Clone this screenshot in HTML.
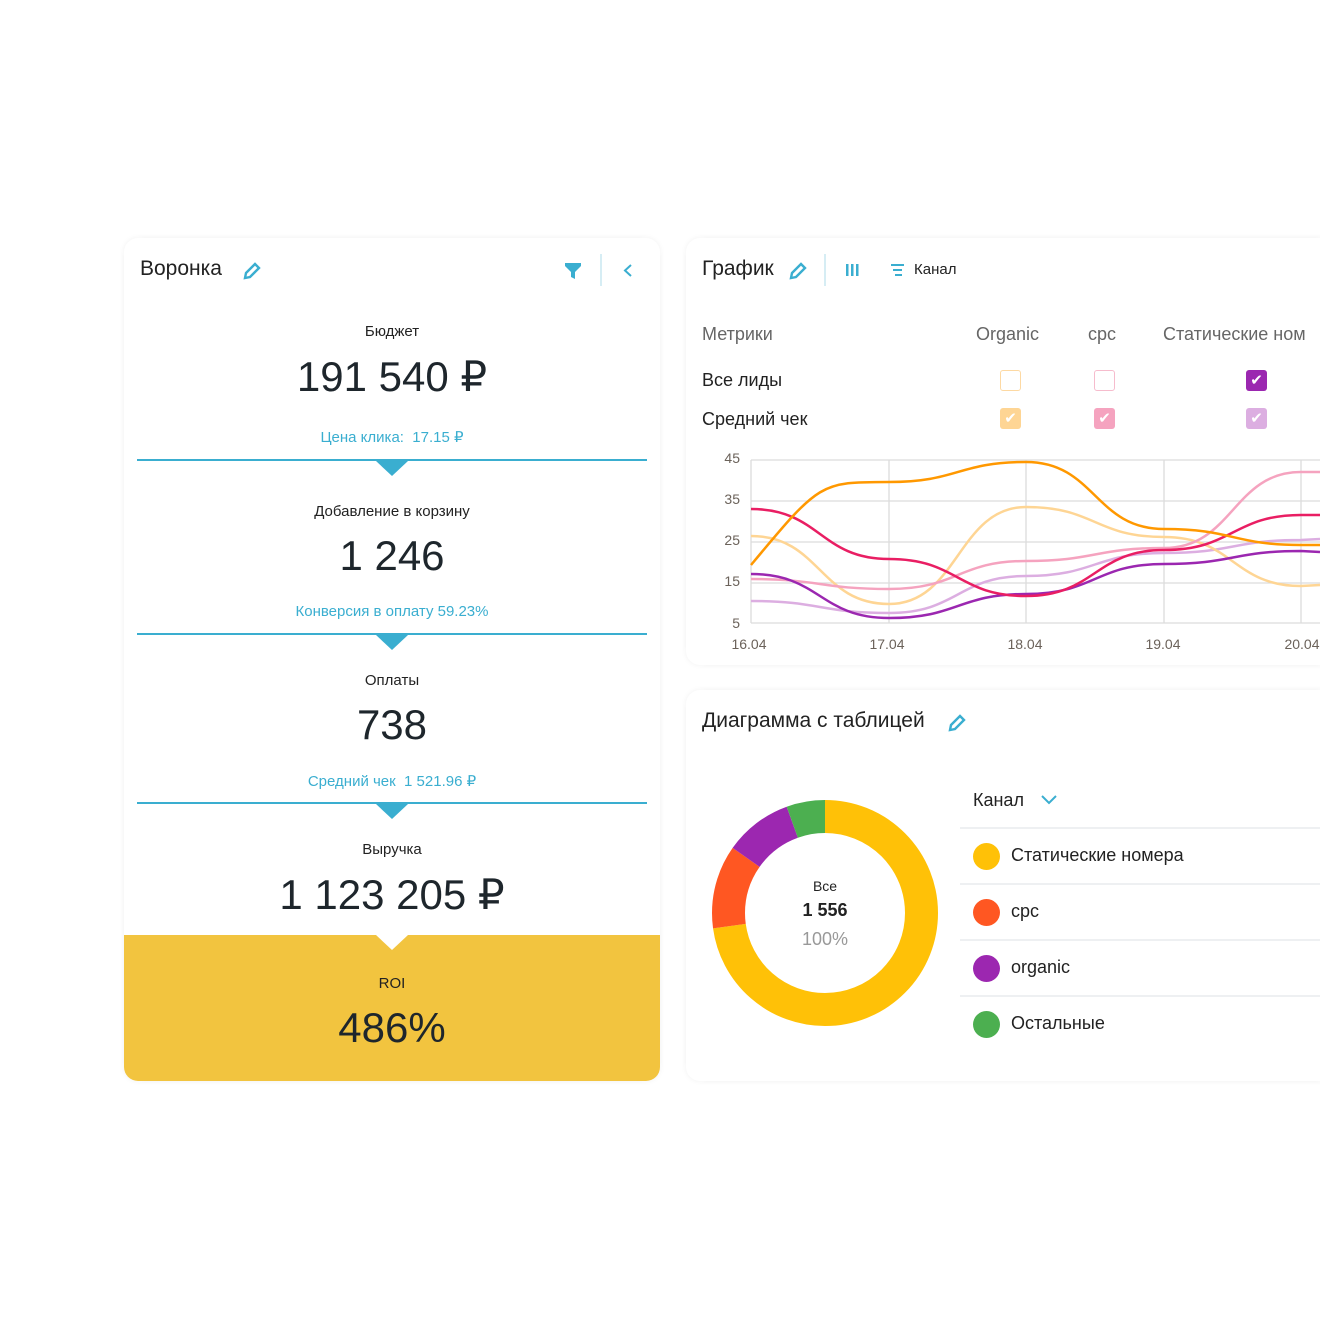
<!DOCTYPE html>
<html><head><meta charset="utf-8">
<style>
*{margin:0;padding:0;box-sizing:border-box}
body{width:1320px;height:1320px;background:#fff;font-family:"Liberation Sans",sans-serif;color:#222;position:relative;overflow:hidden}
.a{position:absolute;white-space:nowrap}
.card{position:absolute;background:#fff;border-radius:14px;box-shadow:0 0 6px rgba(0,0,0,0.06)}
.c{text-align:center;width:536px;left:124px}
.big{font-size:42px;color:#1e262c}
.blue{color:#3aaed0}
.line{position:absolute;left:137px;width:510px;height:2px;background:#3aaed0}
.tri{position:absolute;left:376px;width:0;height:0;border-left:16px solid transparent;border-right:16px solid transparent;border-top:15px solid #3aaed0}
.cb{position:absolute;width:21px;height:21px;border-radius:3px}
.dot{position:absolute;left:973px;width:27px;height:27px;border-radius:50%}
.sep{position:absolute;left:960px;width:360px;height:2px;background:#eef0f2}
</style></head><body>
<div class="card" style="left:124px;top:238px;width:536px;height:843px;overflow:hidden">
  <div style="position:absolute;left:0;top:697px;width:536px;height:146px;background:#f2c43f"></div>
</div>
<div class="card" style="left:686px;top:238px;width:650px;height:427px"></div>
<div class="card" style="left:686px;top:690px;width:650px;height:391px"></div>

<div class="a" style="left:140px;top:257px;font-size:21px">Воронка</div>
<svg class="a" style="left:242px;top:261px" width="20" height="20" viewBox="0 0 20 20"><path d="M3 17 L4 12 L13 3 L17 7 L8 16 Z" fill="none" stroke="#3aaed0" stroke-width="2.4"/></svg>
<svg class="a" style="left:564px;top:262px" width="18" height="18" viewBox="0 0 18 18"><path d="M1 1H17V4L11 10V17L7 15V10L1 4Z" fill="#3aaed0"/></svg>
<div class="a" style="left:600px;top:254px;width:2px;height:32px;background:#d6edf4"></div>
<svg class="a" style="left:622px;top:263px" width="12" height="15"><path d="M9 2 L3 7.5 L9 13" fill="none" stroke="#3aaed0" stroke-width="2"/></svg>

<div class="a c" style="top:323px;font-size:15px">Бюджет</div>
<div class="a c big" style="top:352px">191 540 ₽</div>
<div class="a c blue" style="top:428px;font-size:15px">Цена клика:&nbsp; 17.15 ₽</div>
<div class="line" style="top:459px"></div><div class="tri" style="top:461px"></div>

<div class="a c" style="top:503px;font-size:15px">Добавление в корзину</div>
<div class="a c big" style="top:532px">1 246</div>
<div class="a c blue" style="top:603px;font-size:15px">Конверсия в оплату 59.23%</div>
<div class="line" style="top:633px"></div><div class="tri" style="top:635px"></div>

<div class="a c" style="top:672px;font-size:15px">Оплаты</div>
<div class="a c big" style="top:701px">738</div>
<div class="a c blue" style="top:772px;font-size:15px">Средний чек&nbsp; 1 521.96 ₽</div>
<div class="line" style="top:802px"></div><div class="tri" style="top:804px"></div>

<div class="a c" style="top:841px;font-size:15px">Выручка</div>
<div class="a c big" style="top:870px">1 123 205 ₽</div>
<div class="a" style="left:376px;top:935px;width:0;height:0;border-left:16px solid transparent;border-right:16px solid transparent;border-top:15px solid #fff"></div>
<div class="a c" style="top:975px;font-size:15px">ROI</div>
<div class="a c big" style="top:1004px">486%</div>

<div class="a" style="left:702px;top:257px;font-size:21px">График</div>
<svg class="a" style="left:788px;top:261px" width="20" height="20" viewBox="0 0 20 20"><path d="M3 17 L4 12 L13 3 L17 7 L8 16 Z" fill="none" stroke="#3aaed0" stroke-width="2.4"/></svg>
<div class="a" style="left:824px;top:254px;width:2px;height:32px;background:#d6edf4"></div>
<svg class="a" style="left:845px;top:263px" width="16" height="14"><rect x="1" y="1" width="2.5" height="12" fill="#3aaed0"/><rect x="6" y="1" width="2.5" height="12" fill="#3aaed0"/><rect x="11" y="1" width="2.5" height="12" fill="#3aaed0"/></svg>
<svg class="a" style="left:890px;top:263px" width="16" height="14"><rect x="1" y="1" width="13" height="2" fill="#3aaed0"/><rect x="3" y="6" width="9" height="2" fill="#3aaed0"/><rect x="5" y="11" width="7" height="2" fill="#3aaed0"/></svg>
<div class="a" style="left:914px;top:261px;font-size:15px">Канал</div>

<div class="a" style="left:702px;top:324px;font-size:18px;color:#666">Метрики</div>
<div class="a" style="left:976px;top:324px;font-size:18px;color:#666">Organic</div>
<div class="a" style="left:1088px;top:324px;font-size:18px;color:#666">cpc</div>
<div class="a" style="left:1163px;top:324px;font-size:18px;color:#666">Статические ном</div>
<div class="a" style="left:702px;top:370px;font-size:18px">Все лиды</div>
<div class="a" style="left:702px;top:409px;font-size:18px">Средний чек</div>
<div class="cb" style="left:1000px;top:370px;border:1.5px solid #fdd9a3"></div>
<div class="cb" style="left:1094px;top:370px;border:1.5px solid #f6bccd"></div>
<div class="cb" style="left:1246px;top:370px;background:#9b27b0;color:#fff;font-size:15px;text-align:center;line-height:21px">✔</div>
<div class="cb" style="left:1000px;top:408px;background:#fed594;color:#fff;font-size:15px;text-align:center;line-height:21px">✔</div>
<div class="cb" style="left:1094px;top:408px;background:#f5a3bf;color:#fff;font-size:15px;text-align:center;line-height:21px">✔</div>
<div class="cb" style="left:1246px;top:408px;background:#dcaee1;color:#fff;font-size:15px;text-align:center;line-height:21px">✔</div>

<svg class="a" style="left:0;top:0" width="1320" height="680">
<g stroke="#dcdcdc" stroke-width="1.3">
<line x1="751" y1="460" x2="1320" y2="460"/><line x1="751" y1="501" x2="1320" y2="501"/><line x1="751" y1="542" x2="1320" y2="542"/><line x1="751" y1="583" x2="1320" y2="583"/><line x1="751" y1="623" x2="1320" y2="623"/>
<line x1="751" y1="460" x2="751" y2="623"/><line x1="889" y1="460" x2="889" y2="623"/><line x1="1026" y1="460" x2="1026" y2="623"/><line x1="1164" y1="460" x2="1164" y2="623"/><line x1="1301" y1="460" x2="1301" y2="623"/>
</g>
<g font-size="14" fill="#6b625a" font-family="Liberation Sans">
<text x="740" y="463" text-anchor="end">45</text><text x="740" y="504" text-anchor="end">35</text><text x="740" y="545" text-anchor="end">25</text><text x="740" y="586" text-anchor="end">15</text><text x="740" y="628" text-anchor="end">5</text>
<text x="749" y="649" text-anchor="middle">16.04</text><text x="887" y="649" text-anchor="middle">17.04</text><text x="1025" y="649" text-anchor="middle">18.04</text><text x="1163" y="649" text-anchor="middle">19.04</text><text x="1302" y="649" text-anchor="middle">20.04</text>
</g>
<g fill="none" stroke-width="2.5">
<path stroke="#dcaee1" d="M751 601 C820 601 820 613 889 613 C958 613 958 576 1026 576 C1095 576 1095 553 1164 553 C1233 553 1233 540 1301 540 L1320 539"/>
<path stroke="#fed594" d="M751 536 C820 536 820 604 889 604 C958 604 958 507 1026 507 C1095 507 1095 537 1164 537 C1233 537 1233 586 1301 586 L1320 585"/>
<path stroke="#f5a3bf" d="M751 579 C820 579 820 589 889 589 C958 589 958 561 1026 561 C1095 561 1095 548 1164 548 C1233 548 1233 472 1301 472 L1320 472"/>
<path stroke="#9b27b0" d="M751 574 C820 574 820 618 889 618 C958 618 958 594 1026 594 C1095 594 1095 564 1164 564 C1233 564 1233 551 1301 551 L1320 552"/>
<path stroke="#e91e63" d="M751 509 C820 509 820 559 889 559 C958 559 958 596 1026 596 C1095 596 1095 550 1164 550 C1233 550 1233 515 1301 515 L1320 515"/>
<path stroke="#ff9800" d="M751 565 C820 482 820 482 889 482 C958 482 958 462 1026 462 C1095 462 1095 529 1164 529 C1233 529 1233 545 1301 545 L1320 545"/>
</g>
</svg>

<div class="a" style="left:702px;top:709px;font-size:21px">Диаграмма с таблицей</div>
<svg class="a" style="left:947px;top:713px" width="20" height="20" viewBox="0 0 20 20"><path d="M3 17 L4 12 L13 3 L17 7 L8 16 Z" fill="none" stroke="#3aaed0" stroke-width="2.4"/></svg>
<svg class="a" style="left:700px;top:788px" width="250" height="250">
<g transform="rotate(-90 125 125)" fill="none" stroke-width="33">
<circle cx="125" cy="125" r="96.5" stroke="#ffc107" stroke-dasharray="441.4 606.3"/>
<circle cx="125" cy="125" r="96.5" stroke="#ff5722" stroke-dasharray="0 441.4 72.4 606.3"/>
<circle cx="125" cy="125" r="96.5" stroke="#9c27b0" stroke-dasharray="0 513.8 58.9 606.3"/>
<circle cx="125" cy="125" r="96.5" stroke="#4caf50" stroke-dasharray="0 572.7 33.6 606.3"/>
</g></svg>
<div class="a" style="left:725px;top:878px;width:200px;text-align:center;font-size:14px">Все</div>
<div class="a" style="left:725px;top:900px;width:200px;text-align:center;font-size:18px;font-weight:bold">1 556</div>
<div class="a" style="left:725px;top:929px;width:200px;text-align:center;font-size:18px;color:#999">100%</div>

<div class="a" style="left:973px;top:790px;font-size:18px">Канал</div>
<svg class="a" style="left:1040px;top:794px" width="18" height="12"><path d="M2 2 L9 9 L16 2" fill="none" stroke="#3aaed0" stroke-width="2"/></svg>
<div class="sep" style="top:827px"></div>
<div class="dot" style="top:843px;background:#ffc107"></div><div class="a" style="left:1011px;top:845px;font-size:18px">Статические номера</div>
<div class="sep" style="top:883px"></div>
<div class="dot" style="top:899px;background:#ff5722"></div><div class="a" style="left:1011px;top:901px;font-size:18px">cpc</div>
<div class="sep" style="top:939px"></div>
<div class="dot" style="top:955px;background:#9c27b0"></div><div class="a" style="left:1011px;top:957px;font-size:18px">organic</div>
<div class="sep" style="top:995px"></div>
<div class="dot" style="top:1011px;background:#4caf50"></div><div class="a" style="left:1011px;top:1013px;font-size:18px">Остальные</div>
</body></html>
